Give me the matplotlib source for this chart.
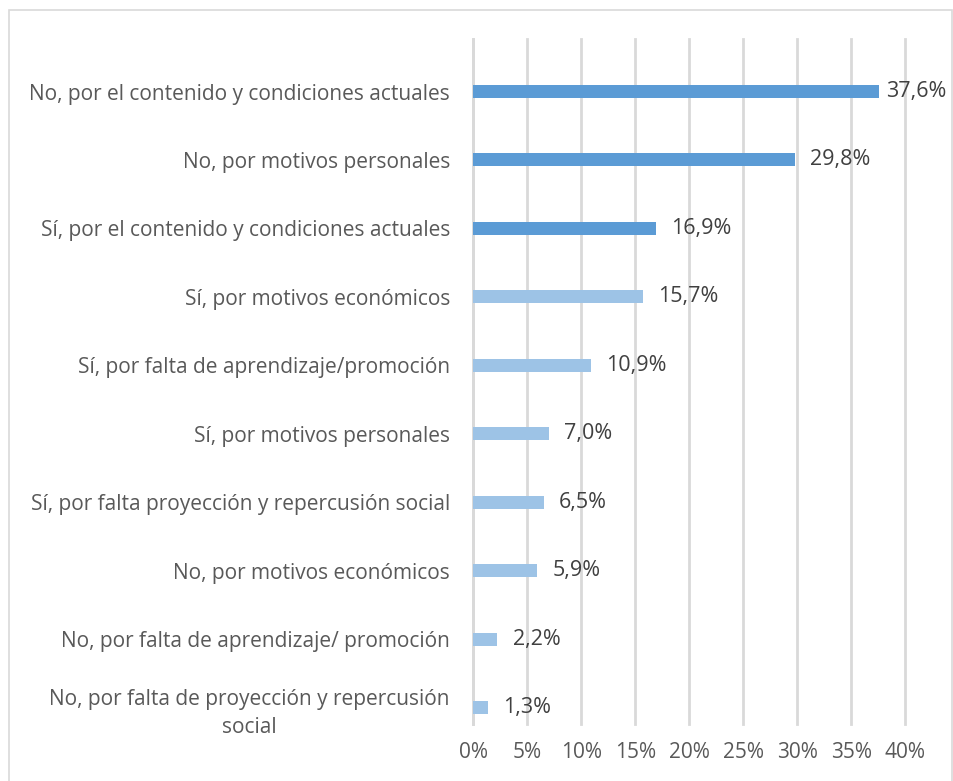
import matplotlib.pyplot as plt
from matplotlib.patches import Rectangle
from matplotlib.ticker import MultipleLocator, FuncFormatter

categories = [
    "No, por el contenido y condiciones actuales",
    "No, por motivos personales",
    "Sí, por el contenido y condiciones actuales",
    "Sí, por motivos económicos",
    "Sí, por falta de aprendizaje/promoción",
    "Sí, por motivos personales",
    "Sí, por falta proyección y repercusión social",
    "No, por motivos económicos",
    "No, por falta de aprendizaje/ promoción",
    "No, por falta de proyección y repercusión\nsocial",
]
values = [37.6, 29.8, 16.9, 15.7, 10.9, 7.0, 6.5, 5.9, 2.2, 1.3]
highlighted = [True, True, True, False, False, False, False, False, False, False]

dark_blue = "#5B9BD5"
light_blue = "#9DC3E6"
grid_color = "#D9D9D9"
label_color = "#595959"
value_color = "#404040"

plt.rcParams['font.family'] = ['Open Sans', 'DejaVu Sans']

W, H = 954, 781
fig = plt.figure(figsize=(W / 100, H / 100), dpi=100)

# chart area border
fig.patches.append(Rectangle((9 / W, -0.05), (952 - 9) / W, (H - 10) / H + 0.05,
                             transform=fig.transFigure, fill=False,
                             edgecolor=grid_color, linewidth=1.2))

ax_left, ax_right = 473.5, 905
ax_top, ax_bottom = 39, 724
ax = fig.add_axes([ax_left / W, 1 - ax_bottom / H,
                   (ax_right - ax_left) / W, (ax_bottom - ax_top) / H])

positions = list(range(len(categories)))
colors = [dark_blue if h else light_blue for h in highlighted]
ax.barh(positions, values, height=0.19, color=colors, zorder=3)

ax.set_xlim(0, 40)
ax.set_ylim(9.24, -0.767)
ax.xaxis.set_major_locator(MultipleLocator(5))
ax.xaxis.set_major_formatter(FuncFormatter(lambda v, p: f"{v:.0f}%"))
ax.grid(axis='x', color=grid_color, linewidth=2, zorder=0)
ax.set_axisbelow(True)
for line in ax.get_xgridlines():
    line.set_clip_on(False)

for side in ['top', 'right', 'bottom']:
    ax.spines[side].set_visible(False)
ax.spines['left'].set_color(grid_color)
ax.spines['left'].set_linewidth(2)

ax.set_yticks(positions)
ax.set_yticklabels(categories, fontsize=15, color=label_color,
                   multialignment='center', linespacing=1.45)
ax.tick_params(axis='y', length=0, pad=17)
ax.tick_params(axis='x', length=0, pad=13, labelsize=15, labelcolor=label_color)

# value labels, pulled back inside the border if they run past it
fig.canvas.draw()
renderer = fig.canvas.get_renderer()
for pos, val in zip(positions, values):
    txt = ax.annotate(f"{val:.1f}%".replace(".", ","), (val, pos),
                      xytext=(11, 0), textcoords='offset points',
                      va='center', ha='left', fontsize=15.5, color=value_color)
    bb = txt.get_window_extent(renderer)
    limit = 946
    if bb.x1 > limit:
        txt.set_position((11 - (bb.x1 - limit) * 72 / 100, 0))

fig.savefig("out.png", dpi=100)
